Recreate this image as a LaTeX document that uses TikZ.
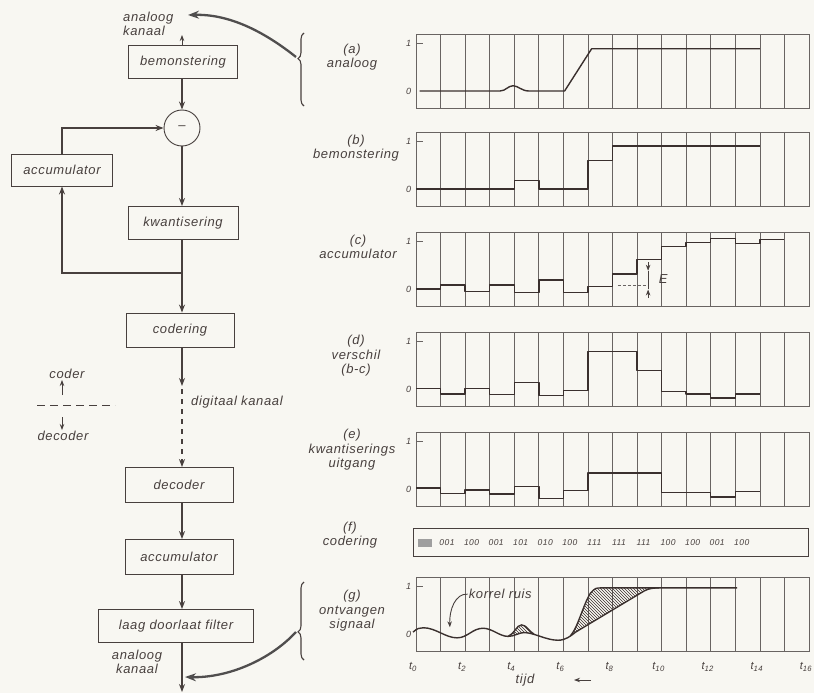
\documentclass[tikz,border=0pt]{standalone}
\usepackage{fontspec}
\setmainfont{Liberation Sans}[LetterSpace=5]
\usetikzlibrary{arrows.meta,decorations.pathreplacing,patterns}
\definecolor{bg}{RGB}{248,247,242}
\definecolor{ink}{RGB}{72,64,62}
\definecolor{sigc}{RGB}{58,48,46}
\definecolor{gridc}{RGB}{105,100,98}
\definecolor{fat}{RGB}{80,78,78}
\newcommand\pframe[1]{%
  \draw[frm] (0,-0.354) rectangle (16,1.1875);
  \foreach \k in {1,...,15} \draw[grd] (\k,-0.354) -- (\k,1.1875);
  \draw[frm] (0,1) -- (0.28,1);
  \node[lvl] (#1one) at (-0.3,1) {1};
  \node[lvl] (#1zero) at (-0.3,0) {0};
}
\begin{document}
\begin{tikzpicture}[x=1pt,y=-1pt,
  txt/.style={font=\itshape\fontsize{13}{14.5}\selectfont, text=ink, inner sep=1pt},
  box/.style={draw=ink, line width=0.9pt, minimum height=33pt, txt, inner sep=0pt},
  flowline/.style={draw=ink, line width=1.2pt},
  flow/.style={flowline, -{Stealth[length=8pt,width=6pt]}},
  smallflow/.style={flowline, line width=0.9pt, -{Stealth[length=6pt,width=4.5pt]}},
  bigarrow/.style={draw=fat, line width=2.3pt, -{Stealth[length=11pt,width=8pt]}},
  frm/.style={draw=gridc, line width=0.9pt},
  grd/.style={draw=gridc, line width=0.7pt},
  lvl/.style={font=\itshape\fontsize{9}{10}\selectfont, text=ink, inner sep=0pt},
  sig/.style={draw=sigc, line width=1.4pt, line join=round},
  code/.style={font=\itshape\fontsize{8.5}{9}\selectfont, text=ink, inner sep=0pt},
  tlab/.style={font=\itshape\fontsize{11}{12}\selectfont, text=ink, inner sep=0pt},
  brc/.style={draw=ink, line width=1.1pt, decorate},
]
\fill[bg] (0,0) rectangle (814,693);
\useasboundingbox (0,0) rectangle (814,693);

% ---------------- left block diagram ----------------
\node[box, minimum width=109pt] (bem) at (183,62) {bemonstering};
\node[circle, draw=ink, line width=0.9pt, minimum size=36pt, inner sep=0pt, txt] (sub) at (182,128) {\textendash};
\node[box, minimum width=101pt, minimum height=32pt] (acc1) at (62,170) {accumulator};
\node[box, minimum width=110pt] (kwa) at (183,223) {kwantisering};
\node[box, minimum width=108pt, minimum height=34pt] (cod) at (180,330) {codering};
\node[box, minimum width=108pt, minimum height=35pt] (dec) at (179,485) {decoder};
\node[box, minimum width=108pt, minimum height=35pt] (acc2) at (179,557) {accumulator};
\node[box, minimum width=155pt] (lpf) at (176,626) {laag doorlaat filter};

\node[txt, align=left, anchor=west] (ak1) at (122,24) {analoog\\kanaal};
\node[txt, align=center] (ak2) at (137,662) {analoog\\kanaal};
\node[txt] (dig) at (237,402) {digitaal kanaal};
\node[txt] (coder) at (67,374) {coder};
\node[txt] (decoder) at (63,436) {decoder};

\coordinate (ain) at (182,35);
\coordinate (fb) at (182,273);
\coordinate (dk) at (182,386);
\coordinate (aout) at (182,692);
\coordinate (cd1) at (37,405);
\coordinate (cd2) at (115,405);
\coordinate (cu) at (62,395);
\coordinate (cdn) at (62,417);

\draw[smallflow] (bem.north -| sub) -- (ain);
\draw[flow] (bem.south -| sub) -- (sub.north);
\draw[flow] (sub.south) -- (kwa.north -| sub);
\draw[flowline] (kwa.south -| sub) -- (fb);
\draw[flow] (fb) -- (cod.north -| sub);
\draw[flow] (fb) -| (acc1.south);
\draw[flow] (acc1.north) |- (sub.west);
\draw[flow] (cod.south -| sub) -- (dk);
\draw[flow, dash pattern=on 5pt off 5pt] (dk) ++(0,3) -- (dec.north -| sub);
\draw[flow] (dec.south -| sub) -- (acc2.north -| sub);
\draw[flow] (acc2.south -| sub) -- (lpf.north -| sub);
\draw[flow] (lpf.south -| sub) -- (aout);

\draw[flowline, line width=1pt, dash pattern=on 8pt off 5pt] (cd1) -- (cd2);
\draw[smallflow] (cu) -- (coder.south -| cu);
\draw[smallflow] (cdn) -- (decoder.north -| cdn);

% braces and curved arrows
\draw[brc, decoration={brace, amplitude=6pt, aspect=0.65}] (304,106) -- (304,33);
\draw[brc, decoration={brace, amplitude=6pt, aspect=0.36}] (304,660) -- (304,582);
\coordinate (bt1) at (296,57);
\coordinate (bt2) at (296,632);
\coordinate (ak1t) at (188,15);
\coordinate (ak2t) at (185,677);
\draw[bigarrow] (bt1) .. controls (262,30) and (228,14) .. (ak1t);
\draw[bigarrow] (bt2) .. controls (270,660) and (228,678) .. (ak2t);

% ---------------- panel labels ----------------
\node[txt, align=center] (la) at (352,57) {(a)\\analoog};
\node[txt, align=center] (lb) at (356,148) {(b)\\bemonstering};
\node[txt, align=center] (lc) at (358,247) {(c)\\accumulator};
\node[txt, align=center] (ld) at (356,356) {(d)\\verschil\\(b-c)};
\node[txt, align=center] (le) at (352,450) {(e)\\kwantiserings\\uitgang};
\node[txt, align=center] (lf) at (350,535) {(f)\\codering};
\node[txt, align=center] (lg) at (352,611) {(g)\\ontvangen\\signaal};

% ---------------- panel (a) ----------------
\begin{scope}[shift={(416,91)}, x=24.5625pt, y=48pt]
\pframe{a}
\draw[sig] (0.15,0) -- (3.42,0) .. controls (3.65,0) and (3.75,0.11) .. (3.95,0.11)
  .. controls (4.15,0.11) and (4.3,0) .. (4.6,0) -- (6.05,0) -- (7.15,0.88) -- (14,0.88);
\end{scope}

% ---------------- panel (b) ----------------
\begin{scope}[shift={(416,189)}, x=24.5625pt, y=48pt]
\pframe{b}
\draw[sig] plot[const plot] coordinates {(0,0) (4,0.18) (5,0) (7,0.6) (8,0.9) (14,0.9)};
\end{scope}

% ---------------- panel (c) ----------------
\begin{scope}[shift={(416,289)}, x=24.5625pt, y=48pt]
\pframe{c}
\draw[sig] plot[const plot] coordinates {(0,0) (1,0.08) (2,-0.05) (3,0.08) (4,-0.07) (5,0.19) (6,-0.07) (7,0.05) (8,0.31) (9,0.62) (10,0.88) (11,0.97) (12,1.05) (13,0.95) (14,1.03) (15,1.03)};
\coordinate (eda) at (8.22,0.07);
\coordinate (edb) at (9.45,0.07);
\draw[grd, dash pattern=on 3pt off 2pt] (eda) -- (edb);
\coordinate (e1) at (9.45,0.56);
\coordinate (e2) at (9.45,0.38);
\coordinate (e3) at (9.45,-0.01);
\coordinate (e4) at (9.45,-0.19);
\draw[smallflow] (e1) -- (e2);
\draw[smallflow] (e4) -- (e3);
\draw[flowline, line width=0.7pt] (e2) -- (e3);
\node[txt] (Elab) at (10.06,0.2) {E};
\end{scope}

% ---------------- panel (d) ----------------
\begin{scope}[shift={(416,389)}, x=24.5625pt, y=48pt]
\pframe{d}
\draw[sig] plot[const plot] coordinates {(0,0.01) (1,-0.1) (2,0.01) (3,-0.12) (4,0.14) (5,-0.14) (6,-0.03) (7,0.78) (9,0.39) (10,-0.05) (11,-0.1) (12,-0.19) (13,-0.1) (14,-0.1)};
\end{scope}

% ---------------- panel (e) ----------------
\begin{scope}[shift={(416,489)}, x=24.5625pt, y=48pt]
\pframe{e}
\draw[sig] plot[const plot] coordinates {(0,0.02) (1,-0.09) (2,-0.02) (3,-0.1) (4,0.05) (5,-0.2) (6,-0.03) (7,0.33) (10,-0.07) (12,-0.17) (13,-0.05) (14,-0.05)};
\end{scope}

% ---------------- panel (f) ----------------
\node[draw=ink, line width=0.9pt, minimum width=395pt, minimum height=28pt, inner sep=0pt] (fbox) at (611,542) {};
\node[fill=gray!75, minimum width=14pt, minimum height=8pt, inner sep=0pt] (fgray) at (425,543) {};
\foreach \c [count=\i from 0] in {001,100,001,101,010,100,111,111,111,100,100,001,100}
  \node[code] (fc\i) at ({447+24.5625*\i},543) {\c};

% ---------------- panel (g) ----------------
\begin{scope}[shift={(416,634)}, x=24.5625pt, y=48pt]
\pframe{g}
\fill[pattern=north west lines, pattern color=sigc] (3.75,-0.05) .. controls (4.0,0.0) and (4.1,0.19) .. (4.3,0.19)
  .. controls (4.5,0.19) and (4.6,0.05) .. (4.8,0.0) -- (4.4,0.03) .. controls (4.2,0.03) and (4.0,-0.05) .. cycle;
\fill[pattern=north west lines, pattern color=sigc] (6.3,-0.03) .. controls (6.6,0.15) and (6.8,0.6) .. (7.1,0.85)
  .. controls (7.3,0.96) .. (7.6,0.96) -- (9.9,0.96) .. controls (9.7,0.96) and (9.5,0.955) .. (9.3,0.9) -- (6.5,0.04) .. controls (6.42,0.01) .. cycle;
\draw[sig] (-0.12,0.04) .. controls (0.05,0.12) and (0.15,0.13) .. (0.3,0.13)
  .. controls (0.8,0.13) and (1.2,-0.08) .. (1.67,-0.08)
  .. controls (2.1,-0.08) and (2.3,0.12) .. (2.73,0.12)
  .. controls (3.1,0.12) and (3.4,-0.05) .. (3.75,-0.05)
  .. controls (4.0,-0.05) and (4.2,0.03) .. (4.4,0.03)
  .. controls (4.8,0.03) and (5.3,-0.13) .. (5.78,-0.13)
  .. controls (6.1,-0.13) and (6.3,-0.04) .. (6.5,0.04)
  -- (9.3,0.9) .. controls (9.5,0.955) and (9.7,0.96) .. (9.9,0.96) -- (13.07,0.96);
\draw[sig] (3.75,-0.05) .. controls (4.0,0.0) and (4.1,0.19) .. (4.3,0.19)
  .. controls (4.5,0.19) and (4.6,0.05) .. (4.8,0.0);
\draw[sig] (6.3,-0.03) .. controls (6.6,0.15) and (6.8,0.6) .. (7.1,0.85)
  .. controls (7.3,0.96) .. (7.6,0.96) -- (9.9,0.96);
\node[txt, anchor=west] (kr) at (2.1,0.83) {korrel ruis};
\coordinate (kt) at (1.38,0.14);
\draw[smallflow] (kr.west) .. controls (1.6,0.85) and (1.35,0.5) .. (kt);
\end{scope}
\foreach \k in {0,2,...,16}
  \node[tlab] (t\k) at ({416+24.5625*\k-3},667) {t\textsubscript{\k}};
\node[txt] (tijd) at (525,680) {tijd};
\coordinate (ta1) at (591,680);
\coordinate (ta2) at (574,680);
\draw[smallflow] (ta1) -- (ta2);
\end{tikzpicture}
\end{document}
